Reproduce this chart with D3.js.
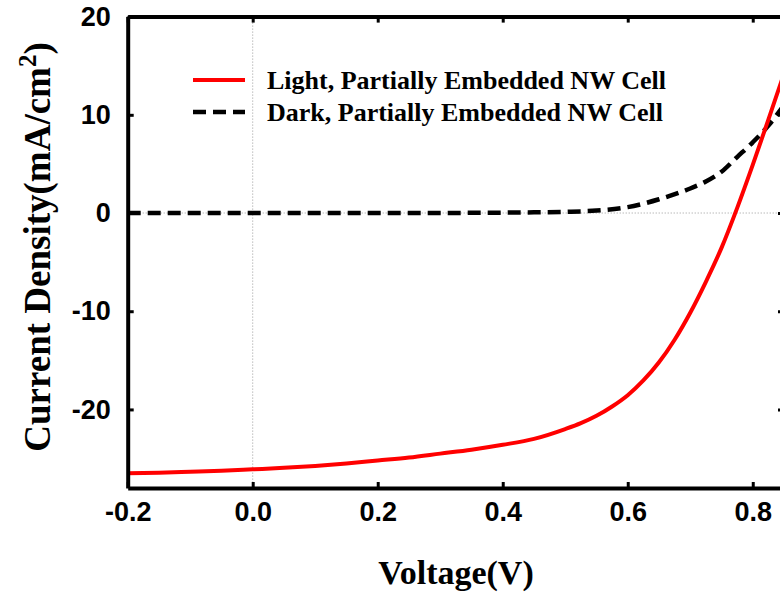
<!DOCTYPE html>
<html lang="en">
<head>
    <meta charset="UTF-8">
    <title>J-V curve</title>
    <script src="https://cdnjs.cloudflare.com/ajax/libs/d3/7.8.5/d3.min.js"></script>
    <style>
        body { margin: 0; background: #fff; }
    </style>
</head>
<body>
    <div id="chart"></div>

    <script>
        // light curve
        const lightV = [-0.2, -0.15, -0.1, -0.05, 0, 0.05, 0.1, 0.15, 0.2, 0.25, 0.3, 0.35, 0.4, 0.45, 0.5, 0.525, 0.55, 0.575, 0.6, 0.625, 0.65, 0.675, 0.7, 0.725, 0.75, 0.775, 0.8, 0.825, 0.85];
        const lightJ = [-26.5, -26.45, -26.35, -26.25, -26.1, -25.95, -25.75, -25.5, -25.2, -24.9, -24.5, -24.1, -23.6, -23.0, -22.0, -21.4, -20.65, -19.7, -18.55, -17.05, -15.2, -12.9, -10.15, -7.0, -3.55, 0.5, 4.9, 9.5, 14.2];

        // dark curve
        const darkV = [-0.2, -0.15, -0.1, -0.05, 0, 0.05, 0.1, 0.15, 0.2, 0.25, 0.3, 0.35, 0.4, 0.45, 0.5, 0.55, 0.6, 0.65, 0.7, 0.725, 0.75, 0.775, 0.8, 0.825, 0.85];
        const darkJ = [0, 0, 0, 0, 0, 0, 0, 0, 0, 0, 0, 0.02, 0.04, 0.07, 0.12, 0.25, 0.6, 1.4, 2.5, 3.2, 4.2, 5.7, 7.2, 8.9, 11.0];

        const xTicks = [-0.2, 0, 0.2, 0.4, 0.6, 0.8];
        const yTicks = [-20, -10, 0, 10, 20];
        const seriesNames = ["Light, Partially Embedded NW Cell", "Dark, Partially Embedded NW Cell"];

        const width = 780;
        const height = 594;

        const svg = d3.select("#chart")
            .append("svg")
            .attr("width", width)
            .attr("height", height);

        const x = d3.scaleLinear()
            .domain([-0.2, 0.85])
            .range([127.7, 784]);

        const y = d3.scaleLinear()
            .domain([-28, 20])
            .range([488, 16.6]);

        svg.append("clipPath")
            .attr("id", "clip")
            .append("rect")
            .attr("x", x(-0.2))
            .attr("y", y(20))
            .attr("width", x(0.85) - x(-0.2))
            .attr("height", y(-28) - y(20));

        // dotted zero lines
        svg.append("line")
            .attr("x1", x(0)).attr("x2", x(0))
            .attr("y1", y(20)).attr("y2", y(-28))
            .attr("stroke", "#999")
            .attr("stroke-width", 1)
            .attr("stroke-dasharray", "1,2");
        svg.append("line")
            .attr("x1", x(-0.2)).attr("x2", x(0.85))
            .attr("y1", y(0)).attr("y2", y(0))
            .attr("stroke", "#999")
            .attr("stroke-width", 1)
            .attr("stroke-dasharray", "1,2");

        const line = d3.line()
            .x(d => x(d[0]))
            .y(d => y(d[1]))
            .curve(d3.curveMonotoneX);

        const plot = svg.append("g").attr("clip-path", "url(#clip)");

        plot.append("path")
            .datum(darkV.map((v, i) => [v, darkJ[i]]))
            .attr("fill", "none")
            .attr("stroke", "#000")
            .attr("stroke-width", 4.5)
            .attr("stroke-dasharray", "13,7")
            .attr("d", line);

        plot.append("path")
            .datum(lightV.map((v, i) => [v, lightJ[i]]))
            .attr("fill", "none")
            .attr("stroke", "#ff0000")
            .attr("stroke-width", 4)
            .attr("d", line);

        // plain hyphen instead of unicode minus
        const fmtX = d => d3.format(".1f")(d).replace("−", "-");
        const fmtY = d => String(d);

        // axes, ticks pointing inward
        const tickStyle = g => {
            g.select(".domain").attr("stroke-width", 4);
            g.selectAll(".tick line").attr("stroke-width", 3);
        };
        const labelStyle = g => g.selectAll("text")
            .attr("font-family", "'Liberation Sans', Arial, sans-serif")
            .attr("font-weight", "bold")
            .attr("font-size", "27px")
            .attr("fill", "#000");

        svg.append("g")
            .attr("transform", `translate(0,${y(-28)})`)
            .call(d3.axisBottom(x).tickValues(xTicks).tickSizeInner(-6).tickSizeOuter(0).tickPadding(14).tickFormat(fmtX))
            .call(tickStyle)
            .call(labelStyle);

        svg.append("g")
            .attr("transform", `translate(0,${y(20)})`)
            .call(d3.axisTop(x).tickValues(xTicks).tickSizeInner(-6).tickSizeOuter(0).tickFormat(""))
            .call(tickStyle);

        svg.append("g")
            .attr("transform", `translate(${x(-0.2)},0)`)
            .call(d3.axisLeft(y).tickValues(yTicks).tickSizeInner(-6).tickSizeOuter(0).tickPadding(17).tickFormat(fmtY))
            .call(tickStyle)
            .call(labelStyle);

        svg.append("g")
            .attr("transform", `translate(${x(0.85)},0)`)
            .call(d3.axisRight(y).tickValues(yTicks).tickSizeInner(-6).tickSizeOuter(0).tickFormat(""))
            .call(tickStyle);

        // axis titles
        svg.append("text")
            .attr("x", 456)
            .attr("y", 584)
            .attr("text-anchor", "middle")
            .attr("font-family", "'Liberation Serif', 'Times New Roman', serif")
            .attr("font-weight", "bold")
            .attr("font-size", "34px")
            .text("Voltage(V)");

        const yTitle = svg.append("text")
            .attr("transform", "translate(50,247) rotate(-90)")
            .attr("text-anchor", "middle")
            .attr("font-family", "'Liberation Serif', 'Times New Roman', serif")
            .attr("font-weight", "bold")
            .attr("font-size", "37px");
        yTitle.append("tspan").text("Current Density(mA/cm");
        yTitle.append("tspan").attr("dy", -14).attr("font-size", "25px").text("2");
        yTitle.append("tspan").attr("dy", 14).text(")");

        // legend
        const legend = svg.append("g");
        seriesNames.forEach((name, i) => {
            const ly = 80 + i * 32;
            legend.append("line")
                .attr("x1", 193).attr("x2", 245)
                .attr("y1", ly).attr("y2", ly)
                .attr("stroke", i === 0 ? "#ff0000" : "#000")
                .attr("stroke-width", i === 0 ? 4 : 4.5)
                .attr("stroke-dasharray", i === 0 ? null : "13,7");
            legend.append("text")
                .attr("x", 267)
                .attr("y", ly + 9)
                .attr("font-family", "'Liberation Serif', 'Times New Roman', serif")
                .attr("font-weight", "bold")
                .attr("font-size", "26px")
                .text(name);
        });
    </script>
</body>
</html>
